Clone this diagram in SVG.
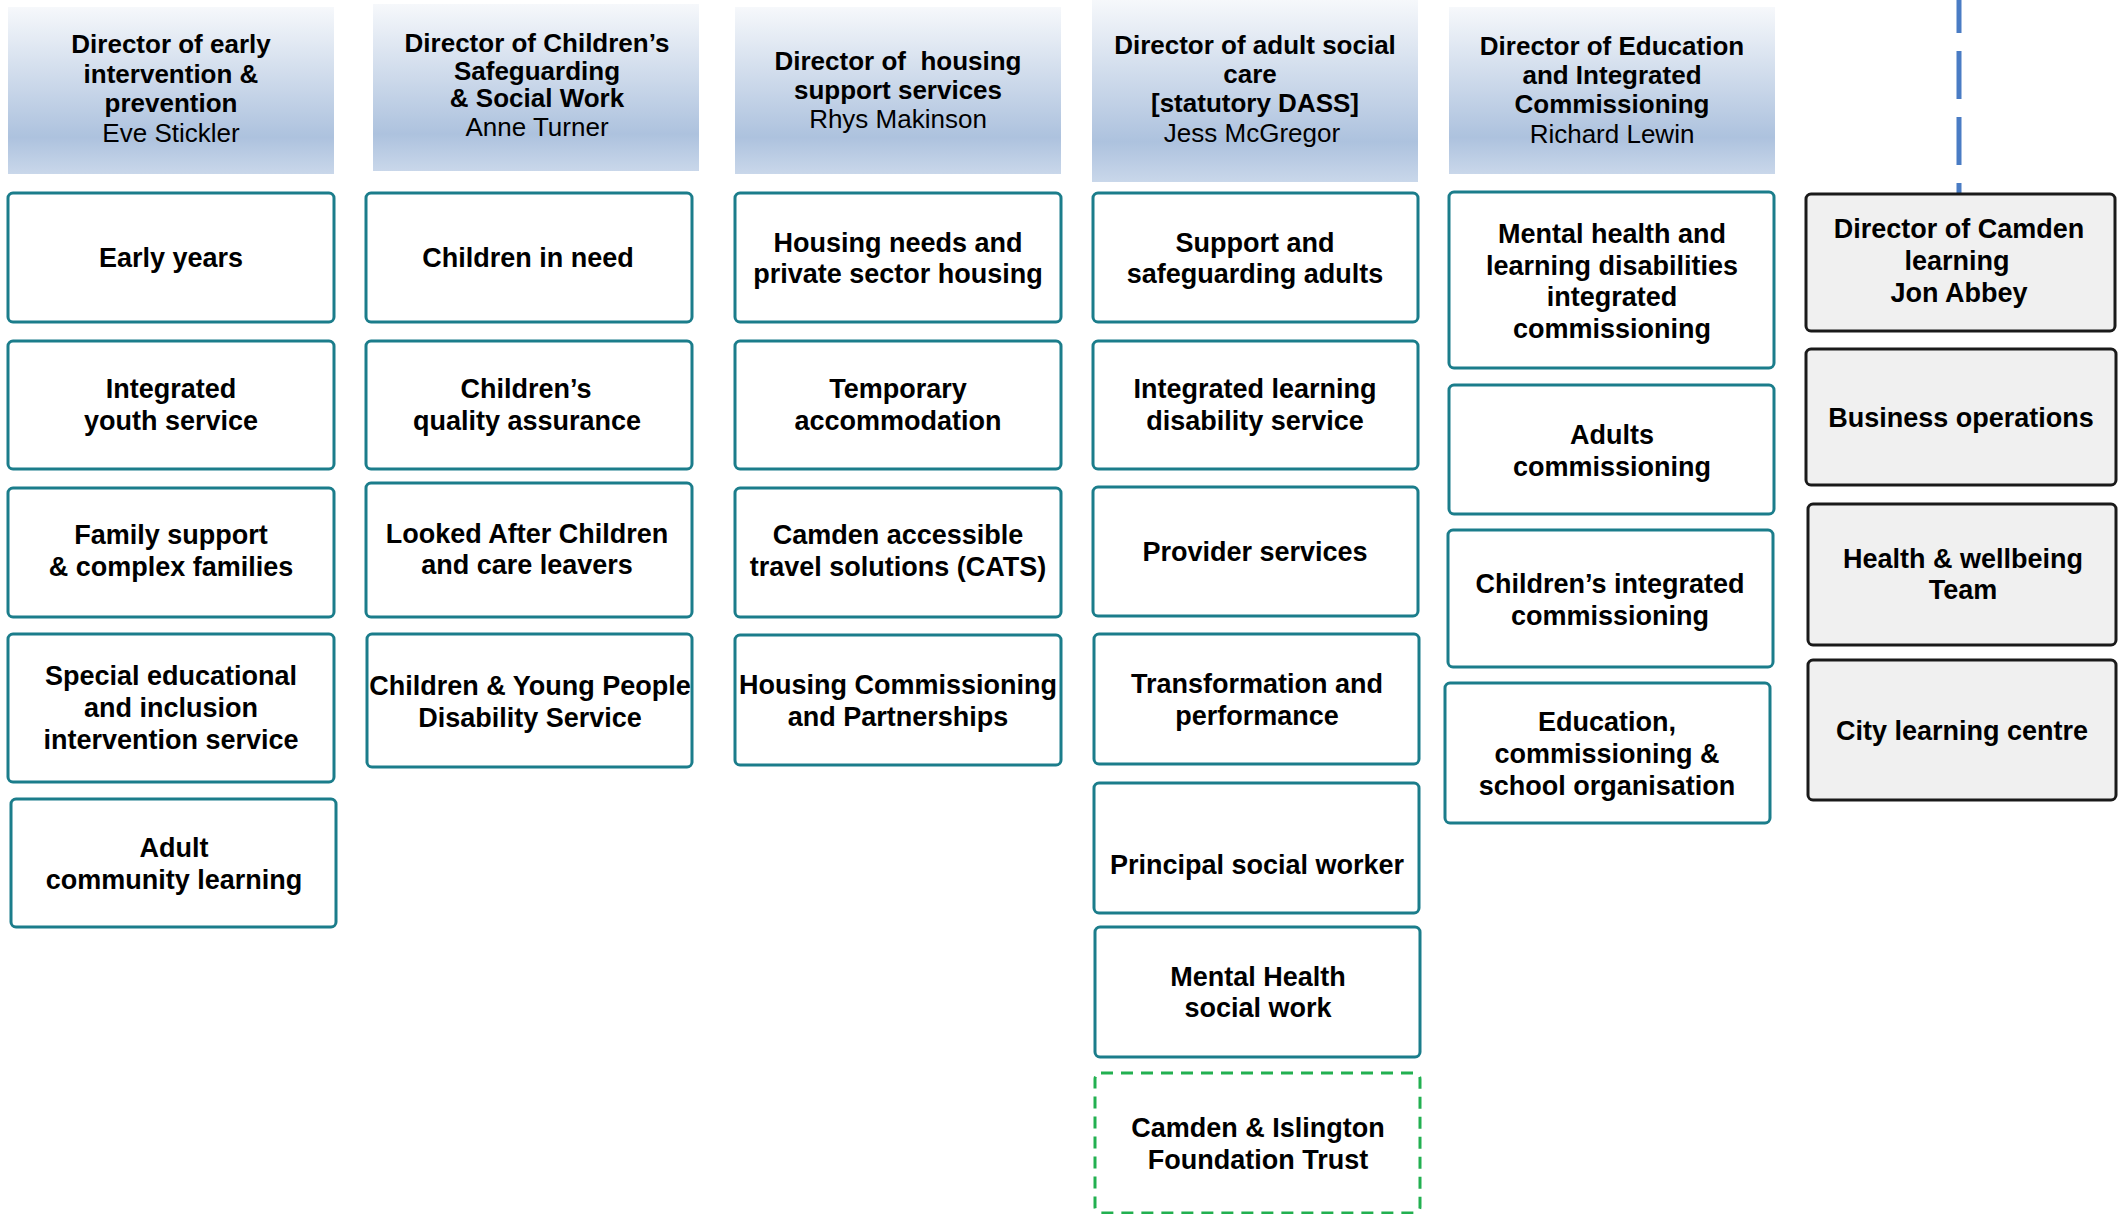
<svg xmlns="http://www.w3.org/2000/svg" width="2120" height="1214" viewBox="0 0 2120 1214">
<defs>
<linearGradient id="hg" x1="0" y1="0" x2="0" y2="1">
<stop offset="0" stop-color="#f6f8fb"/>
<stop offset="0.78" stop-color="#adc2de"/>
<stop offset="1" stop-color="#c9d7ea"/>
</linearGradient>
<style>
.hdr{fill:url(#hg);}
.box{fill:#ffffff;stroke:#1b7d8b;stroke-width:3;}
.gbox{fill:#f0f0f0;stroke:#1a1a1a;stroke-width:3;}
.dbox{fill:#ffffff;stroke:#22b050;stroke-width:3;stroke-dasharray:12 8;}
text{font-family:"Liberation Sans",Arial,sans-serif;font-size:26px;text-anchor:middle;fill:#000;}
.b{font-weight:bold;}
.n text{font-size:27px;}
.conn{stroke:#4a7cc4;stroke-width:5;fill:none;stroke-dasharray:48 18;stroke-dashoffset:15;}
</style>
</defs>
<rect width="2120" height="1214" fill="#ffffff"/>

<g id="connectors">
<line class="conn" x1="1959" y1="0" x2="1959" y2="193"/>
</g>

<!-- Headers -->
<g id="h1"><rect class="hdr" x="8" y="7" width="326" height="167"/>
<text x="171" y="53" class="b">Director of early</text><text x="171" y="83" class="b">intervention &amp;</text><text x="171" y="112" class="b">prevention</text><text x="171" y="142">Eve Stickler</text></g>
<g id="h2"><rect class="hdr" x="373" y="4" width="326" height="167"/>
<text x="537" y="52" class="b">Director of Children’s</text><text x="537" y="80" class="b">Safeguarding</text><text x="537" y="107" class="b">&amp; Social Work</text><text x="537" y="136">Anne Turner</text></g>
<g id="h3"><rect class="hdr" x="735" y="7" width="326" height="167"/>
<text x="898" y="70" class="b" xml:space="preserve">Director of  housing</text><text x="898" y="99" class="b">support services</text><text x="898" y="128">Rhys Makinson</text></g>
<g id="h4"><rect class="hdr" x="1092" y="0" width="326" height="182"/>
<text x="1255" y="54" class="b">Director of adult social</text><text x="1250" y="83" class="b">care</text><text x="1255" y="112" class="b">[statutory DASS]</text><text x="1252" y="142">Jess McGregor</text></g>
<g id="h5"><rect class="hdr" x="1449" y="7" width="326" height="167"/>
<text x="1612" y="55" class="b">Director of Education</text><text x="1612" y="84" class="b">and Integrated</text><text x="1612" y="113" class="b">Commissioning</text><text x="1612" y="143">Richard Lewin</text></g>

<g class="n">
<!-- Column 1 -->
<g id="c1-1"><rect class="box" x="8" y="193" width="326" height="129" rx="5"/><text x="171" y="267" class="b">Early years</text></g>
<g id="c1-2"><rect class="box" x="8" y="341" width="326" height="128" rx="5"/><text x="171" y="398" class="b">Integrated</text><text x="171" y="430" class="b">youth service</text></g>
<g id="c1-3"><rect class="box" x="8" y="488" width="326" height="129" rx="5"/><text x="171" y="544" class="b">Family support</text><text x="171" y="576" class="b">&amp; complex families</text></g>
<g id="c1-4"><rect class="box" x="8" y="634" width="326" height="148" rx="5"/><text x="171" y="685" class="b">Special educational</text><text x="171" y="717" class="b">and inclusion</text><text x="171" y="749" class="b">intervention service</text></g>
<g id="c1-5"><rect class="box" x="11" y="799" width="325" height="128" rx="5"/><text x="174" y="857" class="b">Adult</text><text x="174" y="889" class="b">community learning</text></g>

<!-- Column 2 -->
<g id="c2-1"><rect class="box" x="366" y="193" width="326" height="129" rx="5"/><text x="528" y="267" class="b">Children in need</text></g>
<g id="c2-2"><rect class="box" x="366" y="341" width="326" height="128" rx="5"/><text x="526" y="398" class="b">Children’s</text><text x="527" y="430" class="b">quality assurance</text></g>
<g id="c2-3"><rect class="box" x="366" y="483" width="326" height="134" rx="5"/><text x="527" y="543" class="b">Looked After Children</text><text x="527" y="574" class="b">and care leavers</text></g>
<g id="c2-4"><rect class="box" x="367" y="634" width="325" height="133" rx="5"/><text x="530" y="695" class="b">Children &amp; Young People</text><text x="530" y="727" class="b">Disability Service</text></g>

<!-- Column 3 -->
<g id="c3-1"><rect class="box" x="735" y="193" width="326" height="129" rx="5"/><text x="898" y="252" class="b">Housing needs and</text><text x="898" y="283" class="b">private sector housing</text></g>
<g id="c3-2"><rect class="box" x="735" y="341" width="326" height="128" rx="5"/><text x="898" y="398" class="b">Temporary</text><text x="898" y="430" class="b">accommodation</text></g>
<g id="c3-3"><rect class="box" x="735" y="488" width="326" height="129" rx="5"/><text x="898" y="544" class="b">Camden accessible</text><text x="898" y="576" class="b">travel solutions (CATS)</text></g>
<g id="c3-4"><rect class="box" x="735" y="635" width="326" height="130" rx="5"/><text x="898" y="694" class="b">Housing Commissioning</text><text x="898" y="726" class="b">and Partnerships</text></g>

<!-- Column 4 -->
<g id="c4-1"><rect class="box" x="1093" y="193" width="325" height="129" rx="5"/><text x="1255" y="252" class="b">Support and</text><text x="1255" y="283" class="b">safeguarding adults</text></g>
<g id="c4-2"><rect class="box" x="1093" y="341" width="325" height="128" rx="5"/><text x="1255" y="398" class="b">Integrated learning</text><text x="1255" y="430" class="b">disability service</text></g>
<g id="c4-3"><rect class="box" x="1093" y="487" width="325" height="129" rx="5"/><text x="1255" y="561" class="b">Provider services</text></g>
<g id="c4-4"><rect class="box" x="1094" y="634" width="325" height="130" rx="5"/><text x="1257" y="693" class="b">Transformation and</text><text x="1257" y="725" class="b">performance</text></g>
<g id="c4-5"><rect class="box" x="1094" y="783" width="325" height="130" rx="5"/><text x="1257" y="874" class="b">Principal social worker</text></g>
<g id="c4-6"><rect class="box" x="1095" y="927" width="325" height="130" rx="5"/><text x="1258" y="986" class="b">Mental Health</text><text x="1258" y="1017" class="b">social work</text></g>
<g id="c4-7"><rect class="dbox" x="1095" y="1073" width="325" height="140" rx="6"/><text x="1258" y="1137" class="b">Camden &amp; Islington</text><text x="1258" y="1169" class="b">Foundation Trust</text></g>

<!-- Column 5 -->
<g id="c5-1"><rect class="box" x="1449" y="192" width="325" height="176" rx="5"/><text x="1612" y="243" class="b">Mental health and</text><text x="1612" y="275" class="b">learning disabilities</text><text x="1612" y="306" class="b">integrated</text><text x="1612" y="338" class="b">commissioning</text></g>
<g id="c5-2"><rect class="box" x="1449" y="385" width="325" height="129" rx="5"/><text x="1612" y="444" class="b">Adults</text><text x="1612" y="476" class="b">commissioning</text></g>
<g id="c5-3"><rect class="box" x="1448" y="530" width="325" height="137" rx="5"/><text x="1610" y="593" class="b">Children’s integrated</text><text x="1610" y="625" class="b">commissioning</text></g>
<g id="c5-4"><rect class="box" x="1445" y="683" width="325" height="140" rx="5"/><text x="1607" y="731" class="b">Education,</text><text x="1607" y="763" class="b">commissioning &amp;</text><text x="1607" y="795" class="b">school organisation</text></g>

<!-- Column 6 (grey) -->
<g id="g1"><rect class="gbox" x="1806" y="194" width="309" height="137" rx="5"/><text x="1959" y="238" class="b">Director of Camden</text><text x="1957" y="270" class="b">learning</text><text x="1959" y="302" class="b">Jon Abbey</text></g>
<g id="g2"><rect class="gbox" x="1806" y="349" width="310" height="136" rx="5"/><text x="1961" y="427" class="b">Business operations</text></g>
<g id="g3"><rect class="gbox" x="1808" y="504" width="308" height="141" rx="5"/><text x="1963" y="568" class="b">Health &amp; wellbeing</text><text x="1963" y="599" class="b">Team</text></g>
<g id="g4"><rect class="gbox" x="1808" y="660" width="308" height="140" rx="5"/><text x="1962" y="740" class="b">City learning centre</text></g>
</g>
</svg>
